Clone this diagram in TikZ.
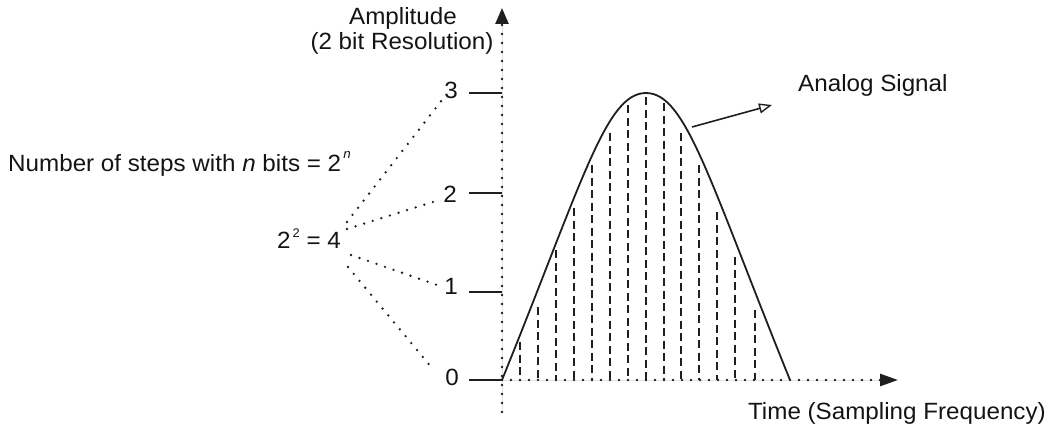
\documentclass[tikz,border=0pt]{standalone}
\usepackage{fontspec}
\setmainfont[FakeStretch=1.03]{Liberation Sans}
\usetikzlibrary{arrows.meta}
\begin{document}
\begin{tikzpicture}[x=1pt,y=-1pt,
  font=\fontsize{23.5}{27}\selectfont,
  ink/.style={draw=black!88},
  dotline/.style={ink, line width=2.6pt, line cap=round, dash pattern=on 0pt off 9pt},
  tickline/.style={ink, line width=2pt},
  curveline/.style={ink, line width=1.8pt},
  sampleline/.style={ink, line width=1.7pt, dash pattern=on 8pt off 4.5pt},
  lab/.style={inner sep=0pt, text=black!92},
  pointer/.style={ink, line width=1.6pt, -{Triangle[open,length=13pt,width=10pt,line width=1.4pt]}},
  axtipy/.style={-{Triangle[length=16pt,width=13pt]}},
  axtipx/.style={-{Triangle[length=18pt,width=12pt]}}
]
\useasboundingbox (0,0) rectangle (1058,428);

% axes
\coordinate (O) at (502,380);
\coordinate (ytop) at (502,8);
\coordinate (ybot) at (502,412);
\coordinate (xend) at (898,380);
\draw[dotline, axtipy, fill=black!88] (ybot) -- (ytop);
\draw[dotline, axtipx, fill=black!88] (O) -- (xend);

% ticks and labels
\coordinate (t0) at (469,380);
\coordinate (t1) at (469,291.5);
\coordinate (t2) at (469,193);
\coordinate (t3) at (469,93);
\coordinate (a1) at (502,291.5);
\coordinate (a2) at (502,193);
\coordinate (a3) at (502,93);
\draw[tickline] (t0) -- (O);
\draw[tickline] (t1) -- (a1);
\draw[tickline] (t2) -- (a2);
\draw[tickline] (t3) -- (a3);
\node[lab] (l0) at (452,377) {0};
\node[lab] (l1) at (451,286) {1};
\node[lab] (l2) at (450,194) {2};
\node[lab] (l3) at (451,90) {3};

% axis titles
\node[lab, anchor=base] (amp) at (403,25) {Amplitude};
\node[lab, anchor=base] (res) at (402,50) {(2 bit Resolution)};
\node[lab, anchor=base east] (time) at (1046,419) {Time (Sampling Frequency)};

% left annotations
\node[lab, anchor=base west] (steps) at (8,171) {Number of steps with \textit{n} bits = 2\raisebox{13pt}{\fontsize{13}{13}\selectfont\,\textit{n}}};
\node[lab, anchor=base west] (pow) at (277,248) {2\raisebox{11pt}{\fontsize{12.5}{13}\selectfont\,2} = 4};

% fan of dotted lines
\coordinate (s3) at (347,222);
\coordinate (s2) at (347,229);
\coordinate (s1) at (351,255);
\coordinate (s0) at (348,267);
\coordinate (e3) at (442,100);
\coordinate (e2) at (436,201);
\coordinate (e1) at (437,285);
\coordinate (e0) at (432,368);
\draw[dotline] (s3) -- (e3);
\draw[dotline] (s2) -- (e2);
\draw[dotline] (s1) -- (e1);
\draw[dotline] (s0) -- (e0);

% samples
\foreach \x/\t in {520/342, 538/307, 556/250, 574/208, 592/165, 610/133, 628/105,
                   646/97, 664/103, 681/133, 699/165, 717/212, 735/257, 755/310}
  \draw[sampleline] (\x,\t) -- (\x,380);

% analog signal
\coordinate (peak) at (646,93);
\coordinate (cend) at (790,380);
\draw[curveline] (O) .. controls (583,180) and (606,93) .. (peak)
                     .. controls (686,93) and (709,180) .. (cend);

\node[lab, anchor=base west] (sig) at (798,91.5) {Analog Signal};
\coordinate (asrc) at (692,127);
\coordinate (atip) at (772,105);
\draw[pointer] (asrc) -- (atip);
\end{tikzpicture}
\end{document}
